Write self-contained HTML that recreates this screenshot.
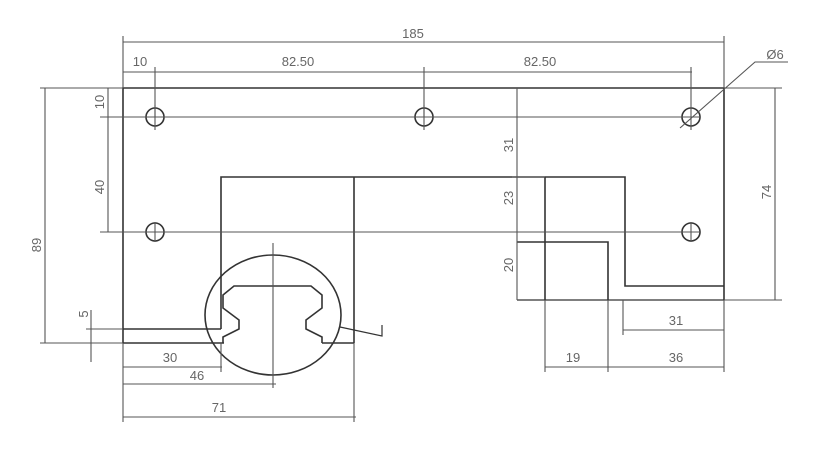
<!DOCTYPE html>
<html><head><meta charset="utf-8"><style>
html,body{margin:0;padding:0;background:#fff;}
svg{display:block}
text{font-family:"Liberation Sans",sans-serif;font-size:13px;fill:#666;}
</style></head><body>
<svg width="837" height="460" viewBox="0 0 837 460" xmlns="http://www.w3.org/2000/svg">
<g stroke="#333" stroke-width="1.6" fill="none">
  <polyline points="123,343 123,88 724,88 724,300"/>
  <line x1="123" y1="343" x2="224" y2="343"/>
  <line x1="123" y1="329" x2="221" y2="329"/>
  <polyline points="221,329 221,177 625,177 625,286 724,286"/>
  <line x1="354" y1="177" x2="354" y2="343"/>
  <line x1="322" y1="343" x2="354" y2="343"/>
  <line x1="545" y1="177" x2="545" y2="300"/>
  <polyline points="517,242 608,242 608,300"/>
  <line x1="517" y1="300" x2="724" y2="300" stroke-width="1.3"/>
  <polyline points="223,343 223,337 239,329 239,320 223,308 223,295 234,286 311,286 322,295 322,308 306,320 306,329 322,337 322,343"/>
  <circle cx="155" cy="117" r="9"/><circle cx="424" cy="117" r="9"/><circle cx="691" cy="117" r="9"/>
  <circle cx="155" cy="232" r="9"/><circle cx="691" cy="232" r="9"/>
  <ellipse cx="273" cy="315" rx="68" ry="60"/>
  <polyline points="340,327 382,336 382,325" stroke-width="1.2"/>
</g>
<g stroke="#555" stroke-width="1.1" fill="none">
  <line x1="100" y1="117" x2="700" y2="117"/>
  <line x1="100" y1="232" x2="700" y2="232"/>
  <line x1="155" y1="105" x2="155" y2="130"/><line x1="424" y1="105" x2="424" y2="130"/>
  <line x1="155" y1="222" x2="155" y2="242"/><line x1="691" y1="222" x2="691" y2="242"/>
  <line x1="691" y1="67" x2="691" y2="130"/>
  <line x1="273" y1="243" x2="273" y2="388"/>
  <line x1="123" y1="36" x2="123" y2="88"/><line x1="724" y1="36" x2="724" y2="88"/>
  <line x1="123" y1="42" x2="724" y2="42"/>
  <line x1="123" y1="72" x2="692" y2="72"/>
  <line x1="155" y1="67" x2="155" y2="117"/><line x1="424" y1="67" x2="424" y2="117"/>
  <line x1="40" y1="88" x2="123" y2="88"/><line x1="40" y1="343" x2="123" y2="343"/>
  <line x1="45" y1="88" x2="45" y2="343"/>
  <line x1="108" y1="88" x2="108" y2="232"/>
  <line x1="91" y1="310" x2="91" y2="362"/>
  <line x1="86" y1="329" x2="123" y2="329"/>
  <line x1="517" y1="88" x2="517" y2="300"/>
  <line x1="512" y1="177" x2="545" y2="177"/>
  <line x1="724" y1="88" x2="782" y2="88"/><line x1="724" y1="300" x2="782" y2="300"/>
  <line x1="775" y1="88" x2="775" y2="300"/>
  <line x1="123" y1="343" x2="123" y2="422"/>
  <line x1="221" y1="343" x2="221" y2="372"/>
  <line x1="354" y1="343" x2="354" y2="422"/>
  <line x1="123" y1="367" x2="222" y2="367"/>
  <line x1="123" y1="384" x2="276" y2="384"/>
  <line x1="123" y1="417" x2="356" y2="417"/>
  <line x1="545" y1="300" x2="545" y2="372"/>
  <line x1="608" y1="300" x2="608" y2="372"/>
  <line x1="623" y1="300" x2="623" y2="335"/>
  <line x1="724" y1="300" x2="724" y2="372"/>
  <line x1="623" y1="330" x2="724" y2="330"/>
  <line x1="545" y1="367" x2="724" y2="367"/>
  <polyline points="680,128 755,62 788,62"/>
</g>
<g fill="#555" stroke="none">
  <text x="413" y="38" text-anchor="middle">185</text>
  <text x="140" y="66" text-anchor="middle">10</text>
  <text x="298" y="66" text-anchor="middle">82.50</text>
  <text x="540" y="66" text-anchor="middle">82.50</text>
  <text x="775" y="59" text-anchor="middle">Ø6</text>
  <text transform="translate(41,245) rotate(-90)" text-anchor="middle">89</text>
  <text transform="translate(104,102) rotate(-90)" text-anchor="middle">10</text>
  <text transform="translate(104,187) rotate(-90)" text-anchor="middle">40</text>
  <text transform="translate(88,314) rotate(-90)" text-anchor="middle">5</text>
  <text transform="translate(513,145) rotate(-90)" text-anchor="middle">31</text>
  <text transform="translate(513,198) rotate(-90)" text-anchor="middle">23</text>
  <text transform="translate(513,265) rotate(-90)" text-anchor="middle">20</text>
  <text transform="translate(771,192) rotate(-90)" text-anchor="middle">74</text>
  <text x="170" y="362" text-anchor="middle">30</text>
  <text x="197" y="380" text-anchor="middle">46</text>
  <text x="219" y="412" text-anchor="middle">71</text>
  <text x="676" y="325" text-anchor="middle">31</text>
  <text x="676" y="362" text-anchor="middle">36</text>
  <text x="573" y="362" text-anchor="middle">19</text>
</g>
</svg>
</body></html>
